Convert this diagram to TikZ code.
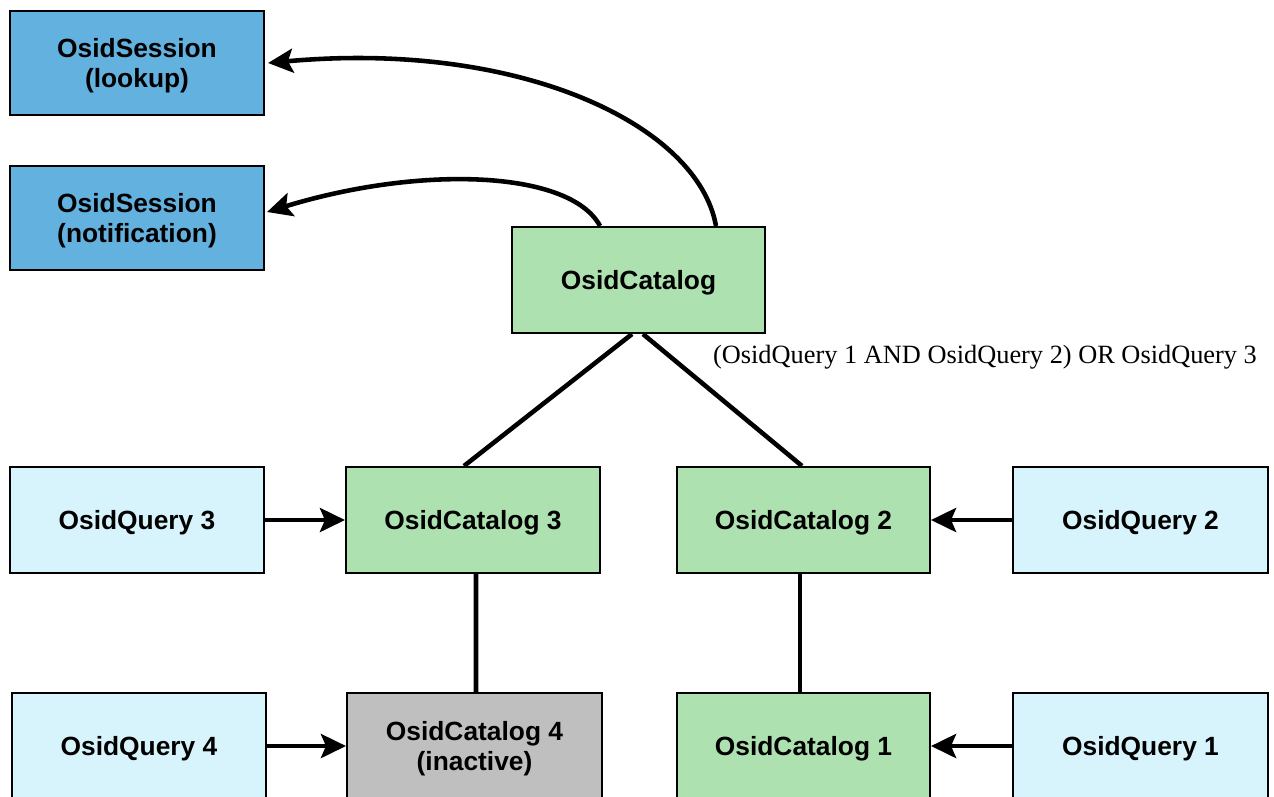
\documentclass[tikz,border=0pt]{standalone}
\usepackage{fontspec}
\setmainfont{Liberation Serif}
\setsansfont{Liberation Sans}
\usetikzlibrary{arrows.meta}
\definecolor{sessblue}{HTML}{62B1DF}
\definecolor{catgreen}{HTML}{ADE2B0}
\definecolor{qblue}{HTML}{D7F4FC}
\definecolor{inactgray}{HTML}{BFBFBF}
\tikzset{
  box/.style={draw=black, line width=1.2pt, minimum width=5.08cm, minimum height=2.12cm,
    align=center, inner sep=0pt, text depth=0pt, font=\sffamily\bfseries\fontsize{15}{17}\selectfont},
  sess/.style={box, fill=sessblue, minimum height=2.08cm},
  cat/.style={box, fill=catgreen},
  qry/.style={box, fill=qblue},
  inact/.style={box, fill=inactgray},
  conn/.style={line width=2.6pt},
  arr/.style={line width=2.6pt, -{Stealth[length=0.5cm, width=0.48cm, inset=0.1cm]}},
}
\begin{document}
\begin{tikzpicture}[x=0.02cm, y=-0.02cm]
\useasboundingbox (0,0) rectangle (1274,796);
\clip (0,0) rectangle (1274,796);
\node[sess] (sl) at (137,63) {OsidSession\\(lookup)};
\node[sess] (sn) at (137,218) {OsidSession\\(notification)};
\node[cat, minimum width=5.06cm] (cat) at (638.5,280) {OsidCatalog};
\node[qry] (q3) at (137,520) {OsidQuery 3};
\node[cat] (c3) at (473,520) {OsidCatalog 3};
\node[cat, minimum width=5.06cm] (c2) at (803.5,520) {OsidCatalog 2};
\node[qry, minimum width=5.1cm] (q2) at (1140.5,520) {OsidQuery 2};
\node[qry] (q4) at (139,746) {OsidQuery 4};
\node[inact, minimum width=5.1cm] (c4) at (474.5,746) {OsidCatalog 4\\(inactive)};
\node[cat, minimum width=5.06cm] (c1) at (803.5,746) {OsidCatalog 1};
\node[qry, minimum width=5.1cm] (q1) at (1140.5,746) {OsidQuery 1};
\node[font=\fontsize{15}{17}\selectfont, anchor=base] (lbl) at (985,363) {(OsidQuery 1 AND OsidQuery 2) OR OsidQuery 3};
% curved arrows
\draw[arr] ([xshift=1.55cm]cat.north) .. controls (698,125) and (520,40) .. ([xshift=0.06cm]sl.east);
\draw[arr] ([xshift=-0.77cm]cat.north) .. controls (570,170) and (420,165) .. ([xshift=0.04cm,yshift=0.12cm]sn.east);
% tree lines
\draw[conn] ([xshift=-0.13cm]cat.south) -- ([xshift=-0.18cm]c3.north);
\draw[conn] ([xshift=0.09cm]cat.south) -- ([xshift=-0.03cm]c2.north);
\draw[conn] ([xshift=0.06cm]c3.south) -- ([xshift=0.03cm]c4.north);
\draw[conn] ([xshift=-0.07cm]c2.south) -- ([xshift=-0.07cm]c1.north);
% query arrows
\draw[arr] (q3.east) -- (c3.west);
\draw[arr] (q2.west) -- (c2.east);
\draw[arr] (q4.east) -- (c4.west);
\draw[arr] (q1.west) -- (c1.east);
\end{tikzpicture}
\end{document}
